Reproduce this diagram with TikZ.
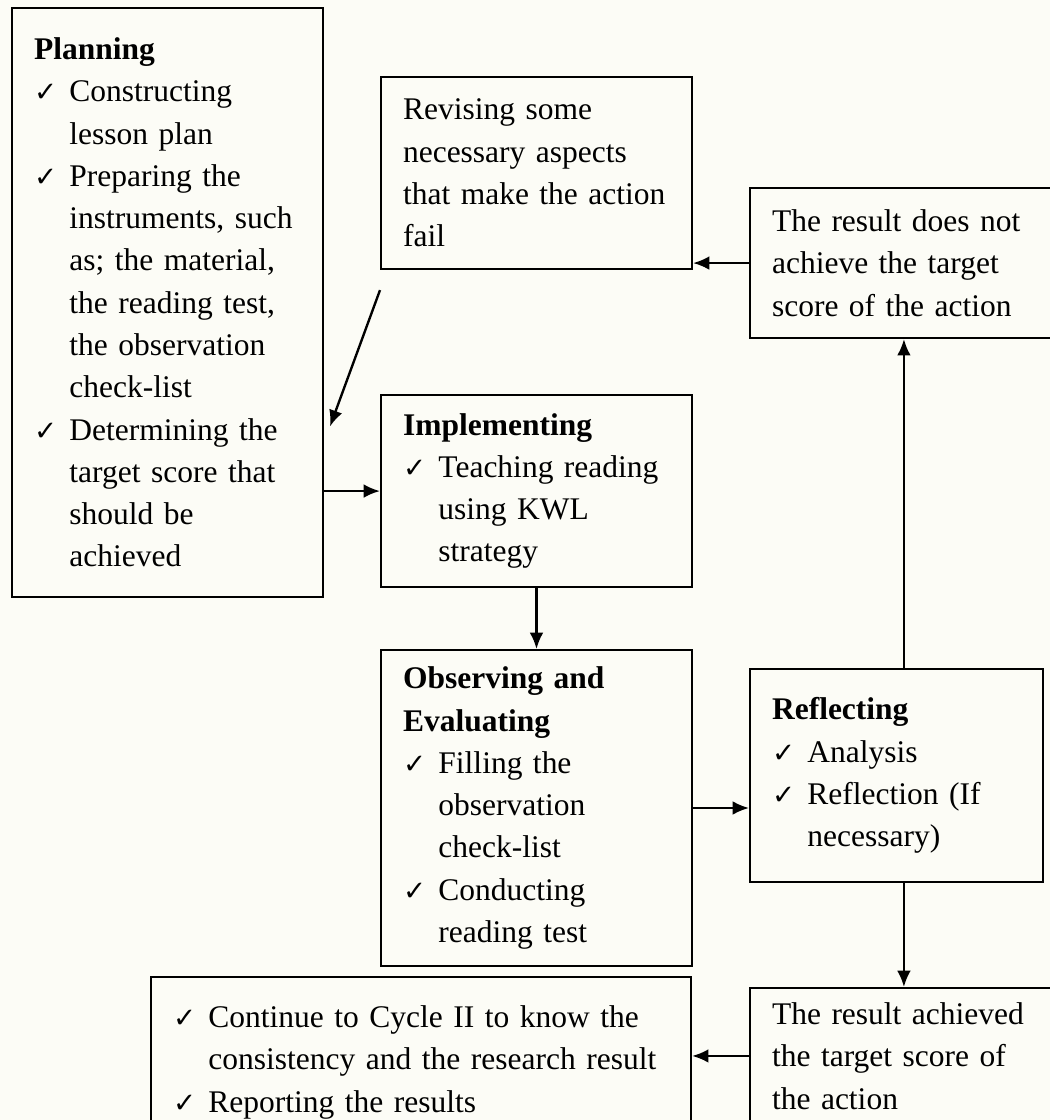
\documentclass[tikz,border=0pt]{standalone}
\usepackage{fontspec}
\setmainfont{Liberation Serif}
\newfontfamily\checkfont{DejaVu Sans}
\usetikzlibrary{arrows.meta}

\newlength{\ckw}
\setlength{\ckw}{13.5pt}
\newcommand{\cksym}{{\checkfont\fontsize{10.5}{10.5}\selectfont ✓}}
\newcommand{\chk}{\par\noindent\hangindent=\ckw\hangafter=1\makebox[\ckw][l]{\cksym}}
\definecolor{paper}{RGB}{252,252,246}

\begin{document}
\begin{tikzpicture}[
    x=0.381pt, y=-0.381pt,
    >={Latex[length=6.2pt,width=5.2pt]},
    every node/.style={font=\fontsize{12}{16.1}\selectfont},
    stage/.style={draw, line width=0.75pt, anchor=north west, align=left, inner xsep=8.4pt, inner ysep=0pt},
    link/.style={->, line width=0.9pt}
]
\useasboundingbox (0,0) rectangle (1050,1120);
\fill[paper] (0,0) rectangle (1050,1120);
\clip (0,0) rectangle (1050,1120);

\node[stage, text width=101.7pt, minimum height=224.4pt] (plan) at (11,7) {\textbf{Planning}
    \chk Constructing\newline lesson plan
    \chk Preparing the\newline instruments, such\newline as; the material,\newline the reading test,\newline the observation\newline check-list
    \chk Determining the\newline target score that\newline should be\newline achieved\par};
\node[stage, text width=101.7pt, minimum height=73.2pt] (revise) at (380,76) {Revising some\\ necessary aspects\\ that make the action\\ fail};
\node[stage, text width=100.5pt, minimum height=57.2pt] (notach) at (749,187) {The result does not\\ achieve the target\\ score of the action};
\node[stage, text width=101.7pt, minimum height=73.2pt] (impl) at (380,394) {\textbf{Implementing}
    \chk Teaching reading\newline using KWL\newline strategy\par};
\node[stage, text width=101.7pt, minimum height=120.4pt] (obs) at (380,649) {\textbf{Observing and}\\ \textbf{Evaluating}
    \chk Filling the\newline observation\newline check-list
    \chk Conducting\newline reading test\par};
\node[stage, text width=94.8pt, minimum height=81.2pt] (refl) at (749,668) {\textbf{Reflecting}
    \chk Analysis
    \chk Reflection (If\newline necessary)\par};
\node[stage, text width=189pt, minimum height=57.2pt] (final) at (150,976) {\chk Continue to Cycle II to know the\newline consistency and the research result
    \chk Reporting the results\par};
\node[stage, text width=100.5pt, minimum height=51.8pt] (achv) at (749,987) {The result achieved\\ the target score of\\ the action};

\draw[link] ([shift={(0,20)}]revise.south west) -- ([shift={(6,124)}]plan.east);
\draw[link] (plan.east |- impl.west) -- (impl.west);
\draw[link] (notach.west) -- (notach.west -| revise.east);
\draw[link] (impl.south) -- (obs.north);
\draw[link] (obs.east) -- (obs.east -| refl.west);
\draw[link] (notach.south |- refl.north) -- (notach.south);
\draw[link] (achv.north |- refl.south) -- (achv.north);
\draw[link] (achv.west) -- (achv.west -| final.east);
\end{tikzpicture}
\end{document}
